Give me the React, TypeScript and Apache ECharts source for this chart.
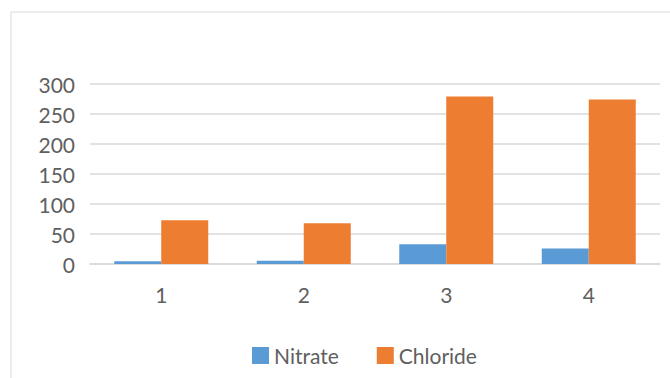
import React, { useEffect, useRef } from "react";
import * as echarts from "echarts";

const categories = ["1", "2", "3", "4"];
const nitrate = [4.5, 5.5, 33, 26];
const chloride = [73, 68, 279, 274];
const yTicks = { min: 0, max: 300, interval: 50 };

export default function App() {
  const ref = useRef<HTMLDivElement>(null);
  useEffect(() => {
    if (!ref.current) return;
    const chart = echarts.init(ref.current, undefined, { renderer: "svg" });
    const font = "Lato, 'Open Sans', sans-serif";
    const textColor = "#606060";
    chart.setOption({
      animation: false,
      backgroundColor: "#ffffff",
      textStyle: { fontFamily: font },
      graphic: [
        {
          type: "rect",
          shape: { x: 11, y: 12, width: 700, height: 400 },
          style: { fill: "none", stroke: "#D9D9D9", lineWidth: 1 },
          silent: true,
        },
      ],
      grid: { left: 90, right: 10, top: 84, bottom: 114, containLabel: false },
      legend: {
        data: ["Nitrate", "Chloride"],
        left: 247,
        top: 340,
        icon: "rect",
        itemWidth: 17,
        itemHeight: 17,
        itemGap: 38,
        textStyle: { color: textColor, fontSize: 21, fontFamily: font },
      },
      xAxis: {
        type: "category",
        data: categories,
        axisLine: { show: true, lineStyle: { color: "#D9D9D9", width: 1.5 } },
        axisTick: { show: false },
        axisLabel: { color: textColor, fontSize: 21, margin: 20, fontFamily: font },
      },
      yAxis: {
        type: "value",
        min: yTicks.min,
        max: yTicks.max,
        interval: yTicks.interval,
        axisLine: { show: false },
        axisTick: { show: false },
        splitLine: { lineStyle: { color: "#D9D9D9", width: 1.5 } },
        axisLabel: { color: textColor, fontSize: 21, margin: 15, fontFamily: font },
      },
      series: [
        {
          name: "Nitrate",
          type: "bar",
          data: nitrate,
          barWidth: 47,
          barGap: "0%",
          itemStyle: { color: "#5B9BD5" },
        },
        {
          name: "Chloride",
          type: "bar",
          data: chloride,
          barWidth: 47,
          barGap: "0%",
          itemStyle: { color: "#ED7D31" },
        },
      ],
    });
    return () => chart.dispose();
  }, []);
  return (
    <div
      ref={ref}
      style={{ position: "fixed", left: 0, top: 0, width: 670, height: 378 }}
    />
  );
}
